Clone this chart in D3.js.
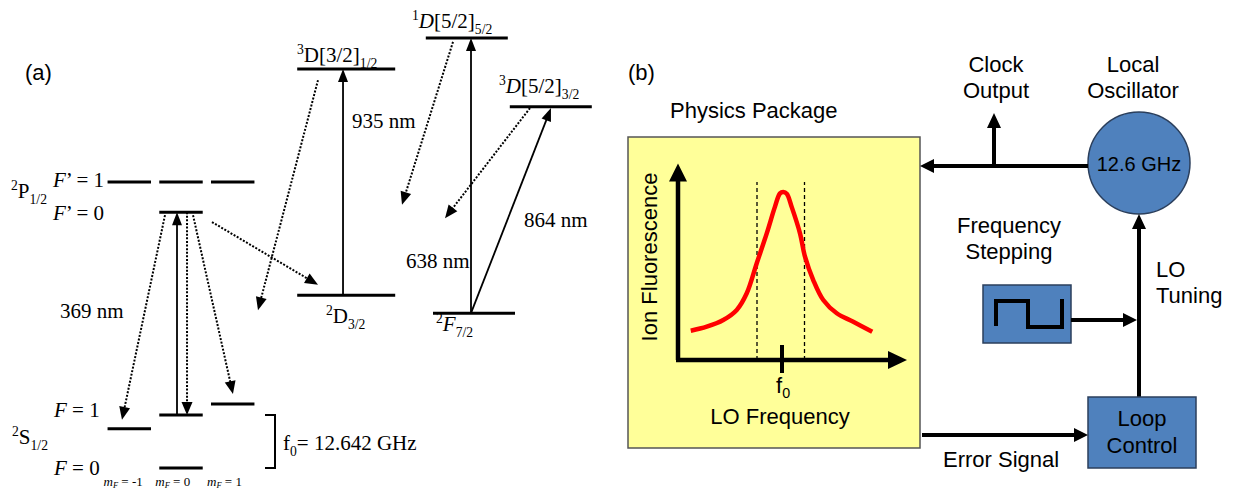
<!DOCTYPE html>
<html>
<head>
<meta charset="utf-8">
<script src="https://cdn.jsdelivr.net/npm/d3@7"></script>
<style>
  body { margin: 0; background: #fff; }
</style>
</head>
<body>
<div id="fig"></div>
<script>
// ---------- panel (a) data: energies in diagram units (0 = 2S1/2 F=0, 100 = 1D[5/2]5/2)
var mF = [-1, 0, 1];
var hfLevels = [
  {term: "P", F: 1, m: -1, E: 66.5},
  {term: "P", F: 1, m: 0, E: 66.5},
  {term: "P", F: 1, m: 1, E: 66.5},
  {term: "P", F: 0, m: 0, E: 59.5},
  {term: "S", F: 1, m: -1, E: 9.1},
  {term: "S", F: 1, m: 0, E: 12.3},
  {term: "S", F: 1, m: 1, E: 14.9},
  {term: "S", F: 0, m: 0, E: 0}
];
// other levels: column centre (diagram units) and energy
var fineLevels = [
  {id: "D32", col: 57.7, E: 40.2},
  {id: "D312", col: 57.7, E: 92.8},
  {id: "F72", col: 79.0, E: 36.0},
  {id: "D552", col: 77.8, E: 100},
  {id: "D532", col: 91.8, E: 84.0}
];
// transitions [column, energy] -> [column, energy]
var transitions = [
  {from: [29.5, 12.3], to: [29.5, 59.5], kind: "pump"},    // 369 nm
  {from: [31.17, 59.5], to: [31.17, 12.3], kind: "decay"},
  {from: [27.5, 58.8], to: [20.33, 11.2], kind: "decay"},
  {from: [32.17, 58.8], to: [38.83, 17.2], kind: "decay"},
  {from: [35.33, 57.2], to: [53.0, 42.6], kind: "decay"},
  {from: [57.17, 40.2], to: [57.17, 92.8], kind: "pump"},  // 935 nm
  {from: [53.0, 90.2], to: [43.0, 36.7], kind: "decay"},
  {from: [78.5, 36.0], to: [78.5, 100], kind: "pump"},     // 638 nm
  {from: [75.5, 99.1], to: [67.0, 61.2], kind: "decay"},
  {from: [78.5, 36.0], to: [91.83, 83.7], kind: "pump"},   // 864 nm
  {from: [88.33, 83.7], to: [74.17, 58.1], kind: "decay"}
];

// ---------- panel (b) data: resonance curve (detuning in linewidths, normalised fluorescence)
var curveDetuning = [-3.65, -3.01, -2.35, -1.81, -1.41, -1.01, -0.61, -0.28, -0.08, 0.05,
                     0.19, 0.39, 0.72, 0.92, 1.25, 1.65, 2.19, 2.85, 3.61];
var curveSignal = [0.174, 0.198, 0.238, 0.298, 0.397, 0.576, 0.754, 0.913, 0.992, 1.0,
                   0.99, 0.91, 0.754, 0.615, 0.476, 0.357, 0.278, 0.228, 0.168];
var probeDetunings = [-1.0, 0.9];
var centreDetuning = 0;

var W = 1237, H = 493;
var serif = "'Liberation Serif', 'Times New Roman', serif";
var sans = "'Liberation Sans', Arial, sans-serif";

var svg = d3.select("#fig").append("svg")
  .attr("width", W).attr("height", H);
svg.append("rect").attr("width", W).attr("height", H).attr("fill", "#fff");

// Draw a line with a filled triangular head at (x2, y2).
function arrow(g, x1, y1, x2, y2, o) {
  var dx = x2 - x1, dy = y2 - y1, d = Math.hypot(dx, dy);
  var ux = dx / d, uy = dy / d;
  var bx = x2 - ux * o.len, by = y2 - uy * o.len;
  g.append("line")
    .attr("x1", x1).attr("y1", y1)
    .attr("x2", x2 - ux * o.len * 0.7).attr("y2", y2 - uy * o.len * 0.7)
    .attr("stroke", "#000").attr("stroke-width", o.width)
    .attr("stroke-dasharray", o.dash || null);
  g.append("path")
    .attr("d", "M" + x2 + "," + y2 +
      "L" + (bx - uy * o.wid / 2) + "," + (by + ux * o.wid / 2) +
      "L" + (bx + uy * o.wid / 2) + "," + (by - ux * o.wid / 2) + "Z")
    .attr("fill", "#000");
}

// Text with italic / sub / sup runs.
function rich(g, x, y, parts, size, family, anchor, subShift) {
  var t = g.append("text").attr("x", x).attr("y", y)
    .attr("font-size", size).attr("font-family", family)
    .attr("text-anchor", anchor || "start").attr("fill", "#000");
  var shift = 0, ss = subShift === undefined ? 0.3 : subShift;
  parts.forEach(function (p) {
    var txt = p[0], kind = p[1] || "";
    var target = kind.indexOf("sub") >= 0 ? size * ss : kind.indexOf("sup") >= 0 ? -size * 0.38 : 0;
    var s = t.append("tspan").attr("dy", target - shift).text(txt);
    shift = target;
    if (kind.indexOf("sub") >= 0 || kind.indexOf("sup") >= 0) s.attr("font-size", size * 0.65);
    if (kind.indexOf("i") >= 0) s.attr("font-style", "italic");
  });
  return t;
}

// ================= panel (a) =================
var ga = svg.append("g");
var xA = d3.scaleLinear().domain([0, 100]).range([0, 600]);
var yA = d3.scaleLinear().domain([0, 100]).range([468, 38]);
var xM = d3.scaleBand().domain(mF).range([106, 256]).paddingInner(0.16).paddingOuter(0.03);

ga.append("text").attr("x", 25).attr("y", 80).attr("font-family", sans)
  .attr("font-size", 22).text("(a)");

ga.selectAll("line.hf").data(hfLevels).join("line")
  .attr("class", "hf")
  .attr("x1", function (d) { return xM(d.m); })
  .attr("x2", function (d) { return xM(d.m) + xM.bandwidth(); })
  .attr("y1", function (d) { return yA(d.E); })
  .attr("y2", function (d) { return yA(d.E); })
  .attr("stroke", "#000").attr("stroke-width", 3);

function halfW(d) { return (d.id === "D32" || d.id === "D312") ? 49 : 41; }
ga.selectAll("line.fine").data(fineLevels).join("line")
  .attr("class", "fine")
  .attr("x1", function (d) { return xA(d.col) - halfW(d); })
  .attr("x2", function (d) { return xA(d.col) + halfW(d); })
  .attr("y1", function (d) { return yA(d.E); })
  .attr("y2", function (d) { return yA(d.E); })
  .attr("stroke", "#000").attr("stroke-width", 3);

transitions.forEach(function (t) {
  if (t.kind === "pump") {
    arrow(ga, xA(t.from[0]), yA(t.from[1]), xA(t.to[0]), yA(t.to[1]),
      {len: 13, wid: 10, width: 1.8});
  } else {
    arrow(ga, xA(t.from[0]), yA(t.from[1]), xA(t.to[0]), yA(t.to[1]),
      {len: 13, wid: 11, width: 2, dash: "2,1.6"});
  }
});

// level labels
rich(ga, 53, 187, [["F", "i"], ["’ = 1"]], 21, serif);
rich(ga, 53, 220, [["F", "i"], ["’ = 0"]], 21, serif);
rich(ga, 11, 198, [["2", "sup"], ["P"], ["1/2", "sub"]], 21, serif);
rich(ga, 54, 417, [["F", "i"], [" = 1"]], 21, serif);
rich(ga, 54, 475, [["F", "i"], [" = 0"]], 21, serif);
rich(ga, 12, 444, [["2", "sup"], ["S"], ["1/2", "sub"]], 21, serif);
mF.forEach(function (m) {
  rich(ga, xM(m) - 4, 486, [["m", "i"], ["F", "isub"], [" = " + (m < 0 ? "-1" : m)]], 13, serif, "start", 0.18);
});
rich(ga, 297, 62, [["3", "sup"], ["D[3/2]"], ["1/2", "sub"]], 21, serif);
rich(ga, 412, 28, [["1", "sup"], ["D", "i"], ["[5/2]"], ["5/2", "sub"]], 21, serif);
rich(ga, 499, 93, [["3", "sup"], ["D", "i"], ["[5/2]"], ["3/2", "sub"]], 21, serif);
rich(ga, 326, 323, [["2", "sup"], ["D"], ["3/2", "sub"]], 21, serif);
rich(ga, 436, 331, [["2", "sup"], ["F", "i"], ["7/2", "sub"]], 21, serif);

// wavelengths
rich(ga, 60, 318, [["369 nm"]], 21, serif);
rich(ga, 352, 128, [["935 nm"]], 21, serif);
rich(ga, 406, 268, [["638 nm"]], 21, serif);
rich(ga, 524, 227, [["864 nm"]], 21, serif);

// hyperfine splitting bracket
ga.append("path")
  .attr("d", "M265," + yA(12.3) + "H275V" + yA(0) + "H265")
  .attr("fill", "none").attr("stroke", "#000").attr("stroke-width", 2);
rich(ga, 283, 450, [["f"], ["0", "sub"], ["= 12.642 GHz"]], 21, serif);

// ================= panel (b) =================
var gb = svg.append("g");
var blue = "#4f81bd", edge = "#2b3f5c";

gb.append("text").attr("x", 628).attr("y", 80).attr("font-family", sans)
  .attr("font-size", 22).text("(b)");
gb.append("text").attr("x", 670).attr("y", 118).attr("font-family", sans)
  .attr("font-size", 22).text("Physics Package");

gb.append("rect").attr("x", 628).attr("y", 137).attr("width", 292).attr("height", 311)
  .attr("fill", "#ffff99").attr("stroke", "#555").attr("stroke-width", 1.5);

// resonance plot inside the physics package
var xF = d3.scaleLinear().domain([-4.16, 5.0]).range([678, 907]);
var yF = d3.scaleLinear().domain([0, 1]).range([360, 192]);

probeDetunings.forEach(function (f) {
  gb.append("line")
    .attr("x1", xF(f)).attr("x2", xF(f))
    .attr("y1", yF(0)).attr("y2", yF(1.06))
    .attr("stroke", "#000").attr("stroke-width", 1.3).attr("stroke-dasharray", "4,3");
});

var curve = d3.line()
  .x(function (d, i) { return xF(curveDetuning[i]); })
  .y(function (d) { return yF(d); })
  .curve(d3.curveCatmullRom.alpha(0.5));
gb.append("path").attr("d", curve(curveSignal))
  .attr("fill", "none").attr("stroke", "#ff0000").attr("stroke-width", 4.5)
  .attr("stroke-linejoin", "round");

arrow(gb, xF(-4.16), yF(0), xF(-4.16), yF(1.17), {len: 18, wid: 18, width: 4.5});
arrow(gb, xF(-4.16) - 2, yF(0), xF(5.0), yF(0), {len: 19, wid: 18, width: 4.5});
gb.append("line")
  .attr("x1", xF(centreDetuning)).attr("x2", xF(centreDetuning))
  .attr("y1", yF(0) - 15).attr("y2", yF(0) + 13)
  .attr("stroke", "#000").attr("stroke-width", 4);

rich(gb, 776, 393, [["f"], ["0", "sub"]], 22, sans, "start", 0.22);
gb.append("text").attr("x", 780).attr("y", 424).attr("text-anchor", "middle")
  .attr("font-family", sans).attr("font-size", 22).text("LO Frequency");
gb.append("text")
  .attr("transform", "translate(657,257) rotate(-90)")
  .attr("text-anchor", "middle").attr("font-family", sans).attr("font-size", 22)
  .text("Ion Fluorescence");

// local oscillator
gb.append("circle").attr("cx", 1139).attr("cy", 163).attr("r", 51)
  .attr("fill", blue).attr("stroke", edge).attr("stroke-width", 1.5);
gb.append("text").attr("x", 1139).attr("y", 171).attr("text-anchor", "middle")
  .attr("font-family", sans).attr("font-size", 20).text("12.6 GHz");

arrow(gb, 1088, 166, 920, 166, {len: 14, wid: 14, width: 4});
arrow(gb, 994, 166, 994, 113, {len: 15, wid: 14, width: 4});

[["Clock", 72], ["Output", 98]].forEach(function (r) {
  gb.append("text").attr("x", 996).attr("y", r[1]).attr("text-anchor", "middle")
    .attr("font-family", sans).attr("font-size", 22).text(r[0]);
});
[["Local", 72], ["Oscillator", 98]].forEach(function (r) {
  gb.append("text").attr("x", 1133).attr("y", r[1]).attr("text-anchor", "middle")
    .attr("font-family", sans).attr("font-size", 22).text(r[0]);
});
[["Frequency", 233], ["Stepping", 259]].forEach(function (r) {
  gb.append("text").attr("x", 1009).attr("y", r[1]).attr("text-anchor", "middle")
    .attr("font-family", sans).attr("font-size", 22).text(r[0]);
});
[["LO", 277], ["Tuning", 303]].forEach(function (r) {
  gb.append("text").attr("x", 1156).attr("y", r[1])
    .attr("font-family", sans).attr("font-size", 22).text(r[0]);
});

// frequency stepping box with square wave
gb.append("rect").attr("x", 983).attr("y", 285).attr("width", 88).attr("height", 58)
  .attr("fill", blue).attr("stroke", edge).attr("stroke-width", 1.5);
gb.append("path").attr("d", "M996,326V301H1028V327H1062V299")
  .attr("fill", "none").attr("stroke", "#000").attr("stroke-width", 4);
arrow(gb, 1071, 320, 1137, 320, {len: 14, wid: 14, width: 4});

// LO tuning line
arrow(gb, 1139, 397, 1139, 214, {len: 15, wid: 14, width: 4});

// loop control
gb.append("rect").attr("x", 1088).attr("y", 397).attr("width", 108).attr("height", 71)
  .attr("fill", blue).attr("stroke", edge).attr("stroke-width", 1.5);
[["Loop", 426], ["Control", 453]].forEach(function (r) {
  gb.append("text").attr("x", 1142).attr("y", r[1]).attr("text-anchor", "middle")
    .attr("font-family", sans).attr("font-size", 22).text(r[0]);
});
arrow(gb, 922, 435, 1088, 435, {len: 14, wid: 14, width: 4});
gb.append("text").attr("x", 943).attr("y", 467)
  .attr("font-family", sans).attr("font-size", 22).text("Error Signal");
</script>
</body>
</html>
